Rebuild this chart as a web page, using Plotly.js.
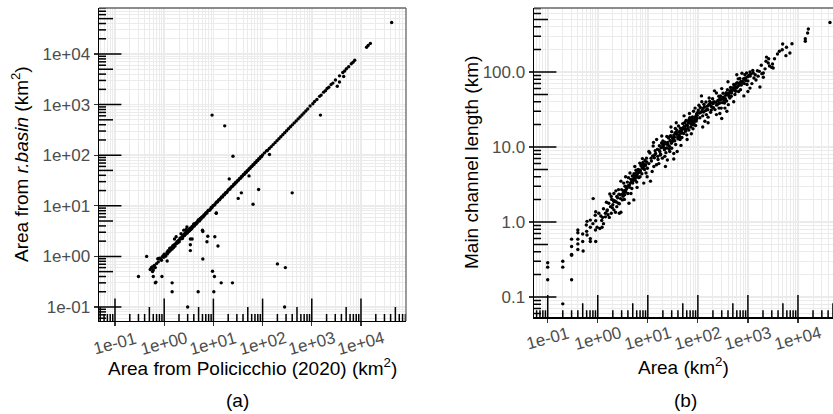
<!DOCTYPE html>
<html>
<head>
<meta charset="utf-8">
<script src="https://cdn.plot.ly/plotly-3.0.1.min.js"></script>
<style>html,body{margin:0;padding:0;background:#fff}#chart{width:833px;height:414px}</style>
</head>
<body>
<div id="chart"></div>
<script>
// ---------- DATA ----------
// Panel (a): [area from Policicchio (2020), area from r.basin] in km2
const panelA_line = [
[0.52,0.55],[0.6,0.62],[0.63,0.66],[0.66,0.6],[0.7,0.72],[0.74,0.9],[0.76,0.78],[0.8,0.92],[0.85,0.88],
[0.88,0.84],[0.91,0.98],[0.95,1.02],[0.98,0.96],[1.0,1.1],[1.04,1.05],[1.08,1.02],[1.14,1.2],[1.16,1.12],[1.2,1.3],
[1.25,1.22],[1.3,1.45],[1.33,1.3],[1.38,1.4],[1.42,1.5],[1.45,1.4],[1.5,1.62],[1.55,1.5],[1.6,1.7],[1.62,2.2],
[1.66,1.6],[1.7,1.78],[1.75,2.45],[1.78,1.8],[1.82,1.95],[1.88,1.85],[1.92,2.0],[1.98,2.1],[2.02,1.95],[2.1,2.3],
[2.15,2.2],[2.2,2.8],[2.25,2.35],[2.3,2.4],[2.35,2.25],[2.4,2.55],[2.45,2.5],[2.5,3.3],[2.55,2.7],[2.6,2.6],
[2.66,2.9],[2.72,2.75],[2.8,3.4],[2.85,3.0],[2.9,3.8],[2.95,2.9],[3.0,3.1],[3.1,3.3],[3.15,3.1],[3.22,3.45],
[3.3,3.25],[3.38,3.6],[3.45,3.4],[3.55,3.7],[3.62,3.5],[3.7,3.9],[3.8,3.75],[3.9,4.1],[4.0,4.4],[4.1,4.0],
[4.25,4.5],[4.4,4.3],[4.55,4.7],[4.7,4.6],[4.85,5.1],[5.0,5.3],[5.2,5.0],[5.4,5.6],[5.55,5.4],[5.75,5.9],
[5.95,6.1],[6.2,6.0],[6.4,6.6],[6.6,6.5],[6.9,7.0],[7.1,7.3],[7.4,7.2],[7.7,7.9],[8.0,8.2],[8.3,8.1],
[8.7,8.5],[9.0,9.3],[9.4,9.2],[9.8,10.0],[10.2,10.3],[10.7,10.5],[11.2,11.4],[11.7,11.9],[12.2,12.0],[12.8,13.1],
[13.4,13.2],[13.9,14.0],[14.6,14.9],[15.3,15.0],[16.0,16.3],[16.8,16.5],[17.5,17.9],[18.3,18.1],[19.0,18.7],[19.9,20.3],
[20.8,21.2],[21.8,21.5],[22.7,23.1],[23.8,24.2],[24.9,24.5],[26.0,26.6],[27.3,27.0],[28.5,29.1],[29.8,29.4],[31.2,31.8],
[32.6,32.2],[34.1,34.8],[35.7,35.2],[37.3,38.0],[39.0,38.6],[40.8,41.5],[42.7,42.1],[44.6,45.4],[46.7,46.0],[48.8,49.6],
[51.0,50.3],[53.4,54.3],[55.8,55.1],[58.4,59.3],[61.0,60.2],[63.8,64.9],[66.8,65.8],[69.8,71.0],[73.0,72.1],[76.4,77.6],
[79.9,78.8],[83.5,84.9],[87.4,86.2],[91.4,93.0],[95.6,94.3],[100,101.5],[109.4,111.2],[119.7,121.6],
[125.2,123.6],[137,135.3],[149.9,148],[164,161.9],[179.4,177.1],[196.3,193.8],[214.7,212],[234.9,232],[257,253.8],[281.2,277.6],
[307.6,303.7],[336.6,332.3],[368.3,363.6],[402.9,397.8],[440.8,435.3],[482.3,476.2],[527.7,521],[577.4,570.1],[631.7,623.7],[691.2,682.5],
[756.2,746.7],[827.4,817],[925,940],[1050,1040],[1140,1155],[1270,1262],[1440,1455],[1550,1540],
[1740,1760],[1900,1885],[2050,2075],[2220,2200],[2470,2495],[2690,2660],[3030,3060],[3660,3700],[4270,4300],[4660,4600],
[5050,5100],[5620,5580],[6340,6400],[6890,6850],[7460,7500]
];
const panelA_off = [
[9.4,620],[17,380],[25,95],[1500,620],[83,21],[400,18],[42000,42000],[13000,13600],[14000,14800],[15500,16200],
[4450,3600],[3650,2800],[3300,2300],[138,103],[53,39],[21,34],[64,10.7],[37,18],[32,14],[11.4,7.1],
[10.7,2.45],[12.4,1.6],[7.4,1.95],[6.1,3.1],[3.4,2.2],[3.4,1.7],[3.4,1.3],[6.1,0.89],[9.6,0.51],[10.5,0.4],
[14.4,0.3],[24.4,0.3],[10.2,0.2],[4.9,0.2],[1.45,0.2],[1.45,0.3],[3.0,0.1],[0.9,0.4],[1.15,0.81],[0.68,0.31],
[0.66,0.3],[0.6,0.4],[0.3,0.4],[0.44,1.0],[0.57,0.62],[0.6,0.54],[0.55,0.6],[0.58,0.5],[200,0.71],[290,0.6],
[280,0.1],[3.7,2.2],[6,3.3],[11.5,7.2],[7.7,2.5]
];
// Panel (b): [area (km2), main channel length (km)]
const panelB_pts = [
[0.1,0.286],[0.1,0.25],[0.1,0.17],[0.2,0.30],[0.2,0.25],[0.2,0.081],[0.3,0.59],[0.3,0.47],[0.3,0.37],[0.3,0.36],
[0.3,0.17],[0.4,0.78],[0.4,0.59],[0.4,0.51],[0.4,0.43],[0.5,0.69],[0.51,0.41],[0.61,0.67],[0.71,0.60],[0.71,0.55],
[0.91,0.55],[0.59,0.91],[0.61,1.02],[0.71,1.06],[0.71,0.85],[0.91,1.04],[0.97,0.85],[0.89,1.23],[0.91,1.37],[0.81,2.05],
[0.8,0.95],[0.9,0.78],[0.4,0.72],[0.6,0.75],[0.5,0.55],
[1.05,1.31],[1.1,0.82],[1.22,0.85],[1.42,1.31],[1.42,1.17],[1.53,1.40],[1.66,1.78],[1.49,1.83],[1.86,1.31],[2.26,1.35],
[2.9,1.35],[2.7,1.31],[1.74,2.36],[1.86,2.19],[2.1,2.4],[2.4,2.19],[2.6,1.78],[2.1,1.87],[2.6,2.7],[3.1,1.97],
[3.3,2.46],[4.2,1.78],[4.0,2.4],[5.25,1.97],[3.3,3.3],[2.9,3.5],[3.8,2.93],[4.8,2.8],[6.1,2.89],[5.25,3.8],
[6.1,4.3],[8.3,3.3],[9.7,4.0],[7.1,4.8],[10.5,6.0],[4.4,4.5],[5.5,5.5],[6.9,6.1],[5.9,4.5],[8.1,5.3],
[9.4,7.1],[1.2,1.05],[1.3,1.5],[1.15,1.2],[1.6,1.25],[1.8,1.6],[2.0,1.7],[2.2,1.9],[2.3,2.6],[2.5,2.1],
[2.8,2.3],[3.0,2.7],[3.2,2.2],[3.5,3.0],[3.6,2.5],[3.9,3.4],[4.3,3.1],[4.6,3.7],[5.0,3.3],[5.3,4.4],
[5.6,3.6],[6.4,5.0],[6.6,3.9],[7.3,5.6],[7.6,4.4],[8.0,6.2],[8.6,5.0],[9.0,5.8],[9.8,5.2],[2.4,1.6],
[1.9,2.0],[3.4,2.0],[4.1,3.9],[4.9,4.1],[6.0,3.4],[7.0,4.0],[8.8,6.6],[1.3,0.95],[1.7,1.15],[2.1,1.45],
[2.7,1.75],[3.6,4.0],[4.6,2.4],[5.8,4.9],[7.8,7.0],[9.2,4.5],
[1.25,1.15],[1.55,1.45],[1.95,1.55],[2.35,1.85],[2.85,2.05],[3.25,2.6],[3.75,2.75],[4.45,3.3],[5.1,3.6],[5.9,3.95],
[6.8,4.6],[7.9,5.2],[8.9,5.6],[2.05,1.95],[2.65,2.35],[3.45,2.3],[4.25,2.9],[5.45,4.1],[6.3,4.55],[7.4,5.9],
[3.05,2.35],[3.55,2.65],[4.05,3.05],[4.75,3.45],[5.35,3.75],[6.05,4.15],[6.95,4.95],[7.7,5.45],[8.4,5.85],[9.5,6.3],
[10.5,8.7],[14.3,8.2],[12.2,4.7],[13.2,5.5],[16.6,6.0],[22.5,5.5],[17.8,7.8],[24.6,6.7],[33,8.2],[38.6,8.7],
[11.3,3.5],[12.8,10.3],[11,8.3],[17.4,8.7],[23.6,9.7],[20,12],[26,13.2],[32,12.6],[44,12.6],[30,16],
[35,15.4],[41,19],[47,16],[55,18],[64,22],[75,20],[87,23],[14.9,5.8],[21.9,7.5],[27.5,8.7],
[94,27.6],[69,24.5],[11.8,6.5],[13.5,7.2],[15.5,9.3],[16,6.8],[18.5,9.8],[19.5,7.1],[21,10.8],[23,8.4],
[25,11.5],[27,10.2],[28.5,14.1],[30,9.6],[31.5,11.9],[34,13.5],[36,10.8],[38,16.8],[40,12.9],[42,14.5],
[45,17.8],[48,13.4],[50,20.5],[52,15.1],[56,17.2],[58,22.5],[60,14.5],[62,19.2],[66,16.8],[70,21.6],
[72,18.4],[78,25.2],[80,17.5],[84,21],[90,19.3],[96,24],[13,11.5],[24,13.8],[37,21],[53,26],
[68,28],[82,30],[46,10.5],[19,14],[29,18.5],[61,12.6],[74,15],[88,33],[33,6.9],[15,12.6],
[12.5,7.6],[14,8.9],[16.8,9.1],[18,8.0],[20.5,9.9],[22,11.6],[25.5,10.6],[28,12.2],[31,13.3],[34.5,12.1],
[37.5,14.8],[41.5,15.8],[44.5,16.4],[49,17.1],[54,18.9],[59,19.6],[65,20.8],[71,22.3],[77,21.9],[85,24.6],
[91,25.8],[97,26.4],[15.8,7.5],[19.8,10.6],[26.5,9.4],[35.5,17.6],[43,13.8],[57,16.2],[67,23.4],[81,19.7],
[11.6,7.1],[13.8,7.9],[17,10.4],[21.5,9.2],[24,10.9],[29.5,11.2],[33,14.4],[39.5,13.6],[46,15.2],[51,18.1],
[63,17.6],[73,20.2],[86,22.4],[99,28.9],[18.8,11.3],[26.8,13.6],[36.5,15.6],[55,21.2],[76,23.8],[93,22.2],
[102,31],[110,24.5],[128,33],[138,22],[148,27],[168,45],[186,31],[197,44],[235,52.5],[235,27],
[275,45],[275,28],[293,33],[347,33],[375,41],[406,36.7],[436,45],[470,52.5],[550,50],[590,61],
[640,81],[670,71],[710,58],[830,48],[870,92],[940,97],[1000,76],[1000,55],[1100,88],[1100,61],
[105,36],[115,29],[120,40],[125,26],[132,37],[142,30.5],[155,35],[160,25],[175,38],[180,29],
[190,34],[210,40],[220,31.5],[245,37],[255,42],[265,33],[285,48],[310,39],[320,52],[335,42],
[360,49],[390,58],[420,47],[450,62],[490,57],[520,68],[560,64],[610,72],[650,55],[690,82],
[740,67],[780,75],[850,70],[900,83],[960,68],[118,48],[215,56],[300,60],[160,21],[380,30],
[520,40],[125,18.5],[760,96],[400,74],[600,92],[300,24],
[108,28.4],[122,31.2],[136,34.4],[151,32.1],[165,36.5],[183,35.2],[202,37.8],[228,39.5],[250,41.1],[270,38.2],
[298,43.5],[325,46.2],[355,44.1],[395,50.5],[430,53.2],[480,55.8],[540,58.5],[620,63.5],[700,68.8],[800,72.5],
[145,39.8],[205,33.4],[262,47.6],[340,38.6],[465,47.4],[580,69.8],[880,78.5],[990,86.5],
[112,33.6],[130,29.2],[158,31.4],[172,40.6],[194,38.9],[238,36.1],[280,41.9],[315,44.6],[370,52.8],[415,49.3],
[445,56.4],[505,61.6],[570,55.3],[660,66.2],[725,74.6],[820,81.4],[920,76.6],[1050,90.5],
[1280,97],[1320,83],[1550,104],[1690,102],[1740,63],[1850,123],[2030,97],[2030,85],[2350,158],[2300,139],
[2550,132],[3100,128],[3200,113],[3000,115],[4250,189],[3900,174],[4850,198],[4950,236],[5900,214],[5750,165],
[6900,179],[7600,238],[14000,277],[14000,257],[15600,331],[16100,374],[43600,457],[1150,94],[1400,92],[1200,70],
[1600,88],[2200,110],[2600,150],[1450,78],[1900,95],[2700,120],[3400,150],[1250,105],[1100,100]
];
// Axis ticks / labels
const decades = [0.1, 1, 10, 100, 1000, 10000];
const xTickTextA = ['1e-01','1e+00','1e+01','1e+02','1e+03','1e+04'];
const yTickTextA = ['1e-01','1e+00','1e+01','1e+02','1e+03','1e+04'];
const xTickTextB = ['1e-01','1e+00','1e+01','1e+02','1e+03','1e+04'];
const yTickValsB = [0.1, 1, 10, 100];
const yTickTextB = ['0.1','1.0','10.0','100.0'];
// annotation_logticks positions: decades (long), fives (mid), other digits (short)
const logLong  = [0.1, 1, 10, 100, 1000, 10000];
const logMid   = [0.05, 0.5, 5, 50, 500, 5000, 50000];
const logShort = [0.06,0.07,0.08,0.09, 0.2,0.3,0.4,0.6,0.7,0.8,0.9, 2,3,4,6,7,8,9,
                  20,30,40,60,70,80,90, 200,300,400,600,700,800,900,
                  2000,3000,4000,6000,7000,8000,9000, 20000,30000,40000,60000,70000,80000];

// ---------- STYLE ----------
const FONT = 'Liberation Sans, Arial, Helvetica, sans-serif';
const GRID = '#ebebeb';
const TICKFONT = {family: FONT, size: 17, color: '#4d4d4d'};

const xRangeA = [-1.325, 4.915], yRangeA = [-1.277, 4.909];
const xRangeB = [-1.274, 4.70],  yRangeB = [-1.271, 2.853];
const xDomA = [99/833, 406/833], yDomA = [(414-321)/414, (414-8)/414];
const xDomB = [534/833, 1], yDomB = [(414-317.3)/414, (414-8)/414];

const panelA = panelA_line.concat(panelA_off);
const traces = [
  {type:'scatter', mode:'markers', x: panelA.map(p=>p[0]), y: panelA.map(p=>p[1]),
   xaxis:'x', yaxis:'y', marker:{size:3.4, color:'#000'}, hoverinfo:'skip', showlegend:false},
  {type:'scatter', mode:'markers', x: panelB_pts.map(p=>p[0]), y: panelB_pts.map(p=>p[1]),
   xaxis:'x2', yaxis:'y2', marker:{size:3.4, color:'#000'}, hoverinfo:'skip', showlegend:false}
];

// log ticks drawn as clipped line markers sitting on the bottom / left axis edge
function logTickTraces(xa, ya, xr, yr) {
  const xEdge = Math.pow(10, xr[0]), yEdge = Math.pow(10, yr[0]);
  const inX = v => Math.log10(v) >= xr[0] && Math.log10(v) <= xr[1];
  const inY = v => Math.log10(v) >= yr[0] && Math.log10(v) <= yr[1];
  const out = [];
  [[logLong, 32], [logMid, 20], [logShort, 10]].forEach(([vals, sz]) => {
    const xs = vals.filter(inX), ys = vals.filter(inY);
    out.push({type:'scatter', mode:'markers', x: xs, y: xs.map(()=>yEdge), xaxis:xa, yaxis:ya,
      cliponaxis:true, hoverinfo:'skip', showlegend:false,
      marker:{symbol:'line-ns-open', size:sz, color:'#000', line:{color:'#000', width:1.5}}});
    out.push({type:'scatter', mode:'markers', x: ys.map(()=>xEdge), y: ys, xaxis:xa, yaxis:ya,
      cliponaxis:true, hoverinfo:'skip', showlegend:false,
      marker:{symbol:'line-ew-open', size:sz, color:'#000', line:{color:'#000', width:1.5}}});
  });
  return out;
}
traces.push(...logTickTraces('x', 'y', xRangeA, yRangeA));
traces.push(...logTickTraces('x2', 'y2', xRangeB, yRangeB));

function mainAxis(domain, range, anchor, vals, text, showLabels) {
  return {type:'log', domain, range, anchor, autorange:false,
    showline:true, linecolor:'#000', linewidth:1.4,
    ticks:'outside', ticklen:4, tickwidth:1.2, tickcolor:'#333',
    tickmode:'array', tickvals: vals, ticktext: text, showticklabels: showLabels,
    tickfont: TICKFONT,
    showgrid:true, gridcolor:GRID, gridwidth:1.6, zeroline:false,
    minor:{dtick:'D1', ticks:'', showgrid:true, gridcolor:GRID, gridwidth:1}
  };
}

const layout = {
  width:833, height:414, margin:{l:0,r:0,t:0,b:0},
  paper_bgcolor:'#fff', plot_bgcolor:'#fff', showlegend:false,
  font:{family:FONT, color:'#000'},
  xaxis:  mainAxis(xDomA, xRangeA, 'y', decades, xTickTextA, false),
  yaxis:  mainAxis(yDomA, yRangeA, 'x', decades, yTickTextA, true),
  xaxis2: mainAxis(xDomB, xRangeB, 'y2', decades, xTickTextB, false),
  yaxis2: mainAxis(yDomB, yRangeB, 'x2', yTickValsB, yTickTextB, true),
  shapes: [
    {type:'line', xref:'x domain', yref:'y domain', x0:0, x1:1, y0:1, y1:1, line:{color:'#666', width:1.3}},
    {type:'line', xref:'x domain', yref:'y domain', x0:1, x1:1, y0:0, y1:1, line:{color:'#666', width:1.3}},
    {type:'line', xref:'x2 domain', yref:'y2 domain', x0:0, x1:1, y0:1, y1:1, line:{color:'#666', width:1.3}}
  ],
  annotations: []
};

// rotated x tick labels
decades.forEach((v,i)=>{
  layout.annotations.push({xref:'x', yref:'y domain', x:Math.log10(v), y:0, yshift:-22,
    xanchor:'center', yanchor:'middle', textangle:-15, text:xTickTextA[i], showarrow:false, font:TICKFONT});
  layout.annotations.push({xref:'x2', yref:'y2 domain', x:Math.log10(v), y:0, yshift:-21,
    xanchor:'center', yanchor:'middle', textangle:-15, text:xTickTextB[i], showarrow:false, font:TICKFONT});
});
const TITLEFONT = {family:FONT, size:19, color:'#000'};
layout.annotations.push(
  {xref:'paper', yref:'paper', x:252.5/833, y:(414-367)/414, xanchor:'center', yanchor:'middle',
   text:'Area from Policicchio (2020) (km<sup>2</sup>)', showarrow:false, font:TITLEFONT},
  {xref:'paper', yref:'paper', x:20/833, y:(414-164)/414, xanchor:'center', yanchor:'middle', textangle:-90,
   text:'Area from <i>r.basin</i> (km<sup>2</sup>)', showarrow:false, font:TITLEFONT},
  {xref:'paper', yref:'paper', x:683.5/833, y:(414-366)/414, xanchor:'center', yanchor:'middle',
   text:'Area (km<sup>2</sup>)', showarrow:false, font:TITLEFONT},
  {xref:'paper', yref:'paper', x:471/833, y:(414-163)/414, xanchor:'center', yanchor:'middle', textangle:-90,
   text:'Main channel length (km)', showarrow:false, font:TITLEFONT},
  {xref:'paper', yref:'paper', x:237/833, y:(414-400)/414, xanchor:'center', yanchor:'middle',
   text:'(a)', showarrow:false, font:TITLEFONT},
  {xref:'paper', yref:'paper', x:685/833, y:(414-400)/414, xanchor:'center', yanchor:'middle',
   text:'(b)', showarrow:false, font:TITLEFONT}
);

Plotly.newPlot('chart', traces, layout, {staticPlot:true, displayModeBar:false});
</script>
</body>
</html>
